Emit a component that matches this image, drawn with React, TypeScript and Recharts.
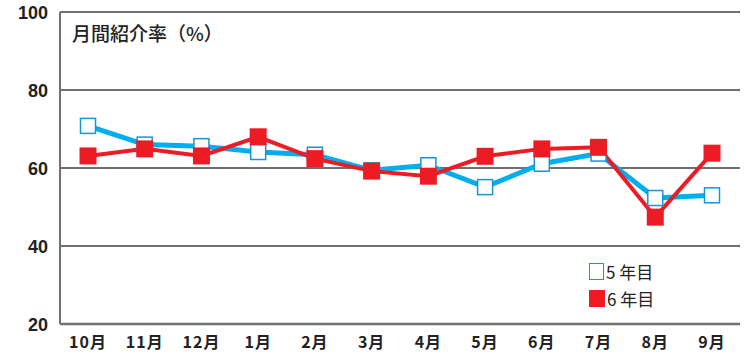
import { LineChart, Line, XAxis, YAxis, CartesianGrid } from "recharts";

const months = ["10月", "11月", "12月", "1月", "2月", "3月", "4月", "5月", "6月", "7月", "8月", "9月"];
const year5 = [70.8, 66.0, 65.6, 64.1, 63.4, 59.4, 60.7, 55.1, 61.1, 63.7, 52.3, 53.0];
const year6 = [63.1, 64.9, 63.1, 68.0, 62.4, 59.2, 57.9, 63.0, 64.9, 65.3, 47.4, 63.8];
const yTicks = [20, 40, 60, 80, 100];
const seriesNames = ["5 年目", "6 年目"];

const data = months.map((m, i) => ({ month: m, y5: year5[i], y6: year6[i] }));

const FONT = "'Noto Sans CJK JP', 'Noto Sans', sans-serif";
const BLUE = "#00aeef";
const BLUE_EDGE = "#1b94d6";
const RED = "#ed1c24";
const GRID = "#707070";

function OpenSquare(props: any) {
  const { cx, cy, index } = props;
  if (cx == null || cy == null) return null;
  return (
    <rect key={`o-${index}`} x={cx - 7.5} y={cy - 7.5} width={15} height={15}
      fill="#fff" stroke={BLUE_EDGE} strokeWidth={1.5} />
  );
}

function FilledSquare(props: any) {
  const { cx, cy, index } = props;
  if (cx == null || cy == null) return null;
  return <rect key={`f-${index}`} x={cx - 8.5} y={cy - 8.5} width={17} height={17} fill={RED} />;
}

function YTick(props: any) {
  const { y, payload } = props;
  return (
    <text x={48} y={y} dy={7} textAnchor="end" fontSize={18} fontWeight={700} fill="#222" fontFamily="'Liberation Sans', sans-serif">
      {payload.value}
    </text>
  );
}

function XTick(props: any) {
  const { x, y, payload } = props;
  return (
    <text x={x} y={y} dy={16} textAnchor="middle" fontSize={16} fontWeight={700} letterSpacing={1} fill="#222" fontFamily={FONT}>
      {payload.value}
    </text>
  );
}

export default function App() {
  return (
    <div style={{ position: "absolute", left: 0, top: 0, width: 748, height: 354, background: "#fff" }}>
      <div style={{ position: "absolute", left: 72, top: 19, fontFamily: FONT, fontSize: 19, fontWeight: 500, color: "#222", zIndex: 2, lineHeight: "28px" }}>
        月間紹介率（%）
      </div>
      <div style={{ position: "absolute", left: 589, top: 258, fontFamily: FONT, fontSize: 17, color: "#222", zIndex: 2 }}>
        {seriesNames.map((name, i) => (
          <div key={name} style={{ display: "flex", alignItems: "center", height: 27 }}>
            <span
              style={{
                display: "inline-block",
                width: i === 0 ? 13 : 16,
                height: i === 0 ? 15 : 17,
                border: i === 0 ? `1.5px solid ${BLUE_EDGE}` : "none",
                background: i === 0 ? "#fff" : RED,
                marginRight: 2,
              }}
            />
            <span>{name}</span>
          </div>
        ))}
      </div>
      <LineChart width={748} height={354} data={data} margin={{ top: 12, right: 8, left: 0, bottom: 0 }}>
        <CartesianGrid vertical={false} stroke={GRID} strokeWidth={2} />
        <XAxis
          dataKey="month"
          height={30}
          padding={{ left: 28, right: 28 }}
          axisLine={{ stroke: GRID, strokeWidth: 2.5 }}
          tickLine={false}
          tick={<XTick />}
          interval={0}
        />
        <YAxis
          domain={[20, 100]}
          ticks={yTicks}
          width={60}
          axisLine={{ stroke: GRID, strokeWidth: 2 }}
          tickLine={false}
          tick={<YTick />}
          interval={0}
        />
        <Line
          dataKey="y5"
          stroke={BLUE}
          strokeWidth={5}
          dot={<OpenSquare />}
          activeDot={false}
          isAnimationActive={false}
        />
        <Line
          dataKey="y6"
          stroke={RED}
          strokeWidth={4}
          dot={<FilledSquare />}
          activeDot={false}
          isAnimationActive={false}
        />
      </LineChart>
    </div>
  );
}
